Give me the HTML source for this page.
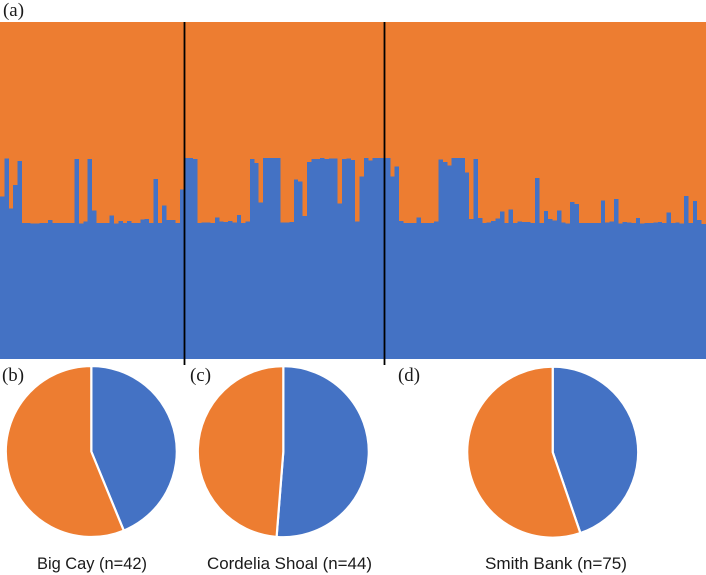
<!DOCTYPE html>
<html lang="en">
<head>
<meta charset="utf-8">
<title>Ancestry proportions by site</title>
<style>
html,body{margin:0;padding:0;background:#fff;}
svg{display:block;}
.panel{font-family:"Liberation Serif",serif;font-size:19px;fill:#1a1a1a;}
.site{font-family:"Liberation Sans",sans-serif;font-size:17px;fill:#1a1a1a;}
</style>
</head>
<body>
<svg id="chart" xmlns="http://www.w3.org/2000/svg" width="706" height="575" viewBox="0 0 706 575">
  <g id="bars" shape-rendering="crispEdges"></g>
  <line x1="184.5" y1="22" x2="184.5" y2="365" stroke="#000" stroke-width="1.8"/>
  <line x1="384.5" y1="22" x2="384.5" y2="365" stroke="#000" stroke-width="1.8"/>
  <g id="pies"></g>
  <text class="panel" x="3" y="16" textLength="21" lengthAdjust="spacingAndGlyphs">(a)</text>
  <text class="panel" x="2" y="381" textLength="22" lengthAdjust="spacingAndGlyphs">(b)</text>
  <text class="panel" x="190" y="381" textLength="21" lengthAdjust="spacingAndGlyphs">(c)</text>
  <text class="panel" x="398" y="381" textLength="22" lengthAdjust="spacingAndGlyphs">(d)</text>
  <text class="site" x="37" y="569" textLength="110" lengthAdjust="spacingAndGlyphs">Big Cay (n=42)</text>
  <text class="site" x="207" y="569" textLength="165" lengthAdjust="spacingAndGlyphs">Cordelia Shoal (n=44)</text>
  <text class="site" x="485" y="569" textLength="142" lengthAdjust="spacingAndGlyphs">Smith Bank (n=75)</text>
</svg>
<script>
// Blue ancestry share (%) for each individual, left to right; orange is the remainder.
const blueShare = [
48.2,59.5,44.7,51.6,58.8,40.3,40.3,40.2,40.2,40.3,40.4,41.2,40.3,40.4,40.4,40.3,40.3,59.3,40.2,40.8,
59.3,44.0,40.3,40.3,40.4,42.6,40.2,40.9,40.3,41.0,40.4,40.4,41.4,41.6,40.3,53.4,40.4,45.6,41.2,41.2,
40.3,50.3,59.7,59.7,59.3,40.3,40.5,40.5,40.3,42.0,40.8,40.6,40.9,40.5,42.8,40.3,40.8,59.3,58.2,46.4,
59.7,59.7,59.7,59.6,40.5,40.5,40.6,53.3,52.7,42.4,58.5,59.4,59.4,59.7,59.4,59.5,59.5,46.2,59.4,59.5,
59.0,40.8,54.1,59.6,58.9,59.7,59.6,59.6,59.7,54.1,57.1,40.9,40.3,40.4,40.4,42.0,40.3,40.3,40.4,40.8,
59.2,58.5,57.4,59.6,59.6,59.6,55.3,41.5,59.4,41.9,40.3,40.5,40.9,41.7,43.8,40.4,44.4,40.4,40.8,40.6,
40.7,40.3,53.7,40.4,43.9,41.6,41.1,44.0,40.5,40.2,46.6,46.0,40.4,40.4,40.4,40.4,40.4,47.0,40.5,40.8,
47.5,40.2,40.6,40.5,40.4,41.8,40.2,40.3,40.3,40.5,40.7,40.3,43.5,40.4,40.5,40.2,48.4,40.3,46.9,41.2,
40.1
];
// Blue share (%) of each site's pie.
const siteNames = ['big-cay','cordelia-shoal','smith-bank'];
const siteBlueShare = [43.8,51.25,44.75];

const NS = 'http://www.w3.org/2000/svg';
const ORANGE = '#ED7D31';
const BLUE = '#4472C4';
const plotLeft = 0, plotRight = 706, plotTop = 22, plotBottom = 359;
const xBar = i => plotLeft + i * (plotRight - plotLeft) / blueShare.length;
const yShare = p => plotBottom - (p / 100) * (plotBottom - plotTop);

const barsGroup = document.getElementById('bars');
blueShare.forEach((p, i) => {
  const x0 = xBar(i), x1 = xBar(i + 1), y = yShare(p);
  const o = document.createElementNS(NS, 'rect');
  
  
  o.setAttribute('x', x0);
  o.setAttribute('y', plotTop);
  o.setAttribute('width', x1 - x0);
  o.setAttribute('height', y - plotTop);
  o.setAttribute('fill', ORANGE);
  barsGroup.appendChild(o);
  const b = document.createElementNS(NS, 'rect');
  
  
  b.setAttribute('x', x0);
  b.setAttribute('y', y);
  b.setAttribute('width', x1 - x0);
  b.setAttribute('height', plotBottom - y);
  b.setAttribute('fill', BLUE);
  barsGroup.appendChild(b);
});

const pieCx = [91.3, 283.3, 552.7];
const pieCy = [451.5, 451.7, 452.2];
const pieR = 85.5;
const piesGroup = document.getElementById('pies');
function pt(cx, cy, pct) {
  const a = pct / 100 * 2 * Math.PI;
  return [cx + pieR * Math.sin(a), cy - pieR * Math.cos(a)];
}
function wedge(cx, cy, from, to, fill, name) {
  const s = pt(cx, cy, from), e = pt(cx, cy, to);
  const large = (to - from) > 50 ? 1 : 0;
  const path = document.createElementNS(NS, 'path');
  
  
  path.setAttribute('d', 'M' + cx + ' ' + cy + 'L' + s[0] + ' ' + s[1] + 'A' + pieR + ' ' + pieR + ' 0 ' + large + ' 1 ' + e[0] + ' ' + e[1] + 'Z');
  path.setAttribute('fill', fill);
  path.setAttribute('stroke', '#fff');
  path.setAttribute('stroke-width', '2.2');
  path.setAttribute('stroke-linejoin', 'round');
  piesGroup.appendChild(path);
}
siteBlueShare.forEach((share, i) => {
  wedge(pieCx[i], pieCy[i], 0, share, BLUE, 'pie-blue-' + siteNames[i]);
  wedge(pieCx[i], pieCy[i], share, 100, ORANGE, 'pie-orange-' + siteNames[i]);
});
</script>
</body>
</html>
